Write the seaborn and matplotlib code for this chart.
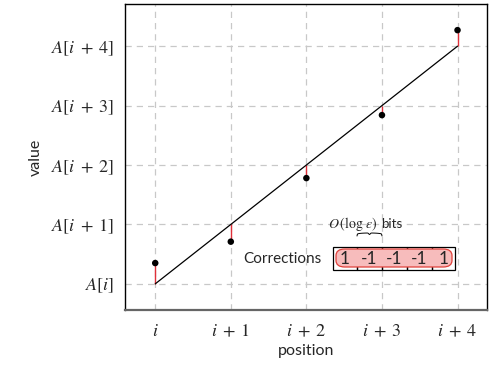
import matplotlib
matplotlib.use("Agg")
import matplotlib.pyplot as plt
import numpy as np
import pandas as pd
import seaborn as sns
from matplotlib.patches import FancyBboxPatch, Rectangle

positions = [0, 1, 2, 3, 4]
values = [0.35, 0.71, 1.78, 2.84, 4.27]
line_x = [0, 4]
line_y = [0, 4]
x_labels = [r"$i$", r"$i\;+\;1$", r"$i\;+\;2$", r"$i\;+\;3$", r"$i\;+\;4$"]
y_labels = [r"$A[i]$", r"$A[i\;+\;1]$", r"$A[i\;+\;2]$", r"$A[i\;+\;3]$", r"$A[i\;+\;4]$"]
corrections = ["1", "-1", "-1", "-1", "1"]

sns.set_style("white")
plt.rcParams["font.family"] = ["Lato", "DejaVu Sans"]
plt.rcParams["mathtext.fontset"] = "stix"

df = pd.DataFrame({"position": positions, "value": values})

fig = plt.figure(figsize=(4.91, 3.66), dpi=100)
ax = fig.add_axes([125 / 491, 1 - 310 / 366, 362 / 491, 306 / 366])

ax.grid(True, color="#c8c8c8", linestyle=(0, (5, 4)), linewidth=0.9)
ax.set_axisbelow(True)

# red correction segments between each point and the line
fit = np.interp(positions, line_x, line_y)
ax.vlines(positions, fit, values, color="#e0303a", linewidth=1.0, zorder=2)

sns.lineplot(x=line_x, y=line_y, color="black", linewidth=0.9, ax=ax, zorder=3)
sns.scatterplot(data=df, x="position", y="value", color="black", s=22,
                edgecolor="none", ax=ax, zorder=4)

ax.set_xlim(-0.40, 4.39)
ax.set_ylim(-0.44, 4.71)
ax.set_xticks(positions)
ax.set_xticklabels(x_labels, fontsize=13)
ax.set_yticks(positions)
ax.set_yticklabels(y_labels, fontsize=13)
ax.tick_params(axis="x", direction="inout", length=7, width=0.8, color="#444444", pad=6)
ax.tick_params(axis="y", direction="out", length=4, width=0.8, color="#444444", pad=4)
ax.set_xlabel("position", fontsize=11.5, labelpad=3)
ax.set_ylabel("value", fontsize=11.5, labelpad=6)

for side in ["left", "right", "top"]:
    ax.spines[side].set_color("black")
    ax.spines[side].set_linewidth(1.0)
ax.spines["bottom"].set_color("#666666")
ax.spines["bottom"].set_linewidth(1.6)

# corrections box, in figure pixel coordinates
def px(x, y):
    return (x / 491, 1 - y / 366)

ftr = fig.transFigure
fig.text(*px(282, 259), "Corrections", fontsize=11, ha="center", va="center")
edges = [333, 357, 382, 407, 432, 455]
for k in range(5):
    x0, x1 = edges[k], edges[k + 1]
    fig.patches.append(Rectangle(px(x0, 270), (x1 - x0) / 491, 23 / 366,
                                 transform=ftr, facecolor="none",
                                 edgecolor="black", linewidth=0.9))
fig.patches.append(FancyBboxPatch(px(336, 267), 116 / 491, 18 / 366,
                                  boxstyle="round,pad=0,rounding_size=0.018",
                                  transform=ftr, facecolor="#f7bcbc",
                                  edgecolor="#e0403a", linewidth=0.9, zorder=5))
for k in range(5):
    cx = (edges[k] + edges[k + 1]) / 2
    fig.text(*px(cx, 258.5), corrections[k], fontsize=12.5, ha="center",
             va="center", zorder=6)

# brace over one cell
bx = np.linspace(357, 382, 60)
t = (bx - 357) / 25
by = 236 - 3 * (np.abs(np.sin(np.pi * t)) ** 0.15) + 1.5 * np.exp(-((t - 0.5) / 0.04) ** 2)
fig.lines.append(plt.Line2D(bx / 491, 1 - by / 366, transform=ftr,
                            color="black", linewidth=0.7))
fig.text(*px(378, 224), r"$O\,(\log\,\varepsilon)$", fontsize=10,
         ha="right", va="center")
fig.text(*px(381, 224), "bits", fontsize=9.5, ha="left", va="center")

fig.savefig("out.png", dpi=100)
